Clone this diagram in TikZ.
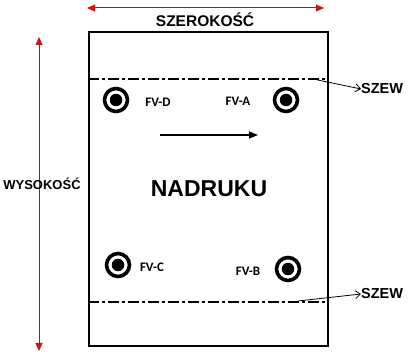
\documentclass[tikz,border=0pt]{standalone}
\usepackage{fontspec}
\setmainfont{Liberation Sans}
\newfontfamily\fvfont{Carlito}
\usetikzlibrary{arrows.meta}
\definecolor{dimred}{RGB}{200,20,20}
\definecolor{dimline}{RGB}{140,35,35}
\begin{document}
\begin{tikzpicture}[x=1pt,y=-1pt,
  frame/.style={draw=black,line width=1.6pt},
  seam/.style={draw=black,line width=1.4pt,dash pattern=on 11pt off 3pt on 3pt off 3pt},
  dimarrow/.style={draw=dimline,line width=1pt,{Triangle[length=8pt,width=7pt,color=dimred]}-{Triangle[length=8pt,width=7pt,color=dimred]}},
  callout/.style={draw=black,line width=0.8pt,-{Straight Barb[length=5pt,width=8pt]}},
  lbl/.style={font=\bfseries\fontsize{14}{16}\selectfont,inner sep=0pt},
  fvlbl/.style={font=\fvfont\bfseries\fontsize{13}{15}\selectfont,inner sep=0pt},
  ring/.style={circle,draw=black,line width=3.6pt,minimum size=23pt,inner sep=0pt},
  dot/.style={circle,fill=black,minimum size=12.5pt,inner sep=0pt}]
\useasboundingbox (0,0) rectangle (413,355);
% print area
\node[frame,minimum width=239pt,minimum height=314pt,inner sep=0pt,anchor=north west] (sheet) at (88,31) {};
% seams
\coordinate (s1l) at (88,79); \coordinate (s1r) at (327,79);
\coordinate (s2l) at (88,302); \coordinate (s2r) at (327,302);
\draw[seam] (s1l) -- (s1r);
\draw[seam] (s2l) -- (s2r);
% width dimension
\coordinate (wl) at (87,8); \coordinate (wr) at (324,8);
\draw[dimarrow] (wl) -- (wr);
\node[lbl,font=\bfseries\fontsize{15.5}{17}\selectfont] (szer) at (205,20) {SZEROKOŚĆ};
% height dimension
\coordinate (ht) at (39,37); \coordinate (hb) at (39,351);
\draw[dimarrow] (ht) -- (hb);
\node[lbl,font=\bfseries\fontsize{13}{15}\selectfont] (wys) at (42,184) {WYSOKOŚĆ};
% seam labels
\node[lbl,font=\bfseries\fontsize{14.5}{16}\selectfont,anchor=west] (szew1) at (361,89) {SZEW};
\node[lbl,font=\bfseries\fontsize{14.5}{16}\selectfont,anchor=west] (szew2) at (361,294) {SZEW};
\coordinate (c1) at (313,79); \coordinate (c2) at (298,301);
\draw[callout] (c1) -- (szew1.west);
\draw[callout] (c2) -- (szew2.west);
% centre text and arrow
\node[font=\bfseries\fontsize{23}{26}\selectfont,inner sep=0pt] (nad) at (209,189) {NADRUKU};
\coordinate (al) at (160,135); \coordinate (ar) at (258,135);
\draw[line width=1.2pt,-{Triangle[length=9pt,width=7pt]}] (al) -- (ar);
% sensors
\node[ring] (fvd) at (116,100) {}; \node[dot] at (fvd) {};
\node[ring] (fva) at (286,100) {}; \node[dot] at (fva) {};
\node[ring] (fvc) at (118,265) {}; \node[dot] at (fvc) {};
\node[ring] (fvb) at (288,269) {}; \node[dot] at (fvb) {};
\node[fvlbl] (lfvd) at (158,102) {FV-D};
\node[fvlbl] (lfva) at (238,101) {FV-A};
\node[fvlbl] (lfvc) at (152,267) {FV-C};
\node[fvlbl] (lfvb) at (248,271) {FV-B};
\end{tikzpicture}
\end{document}
